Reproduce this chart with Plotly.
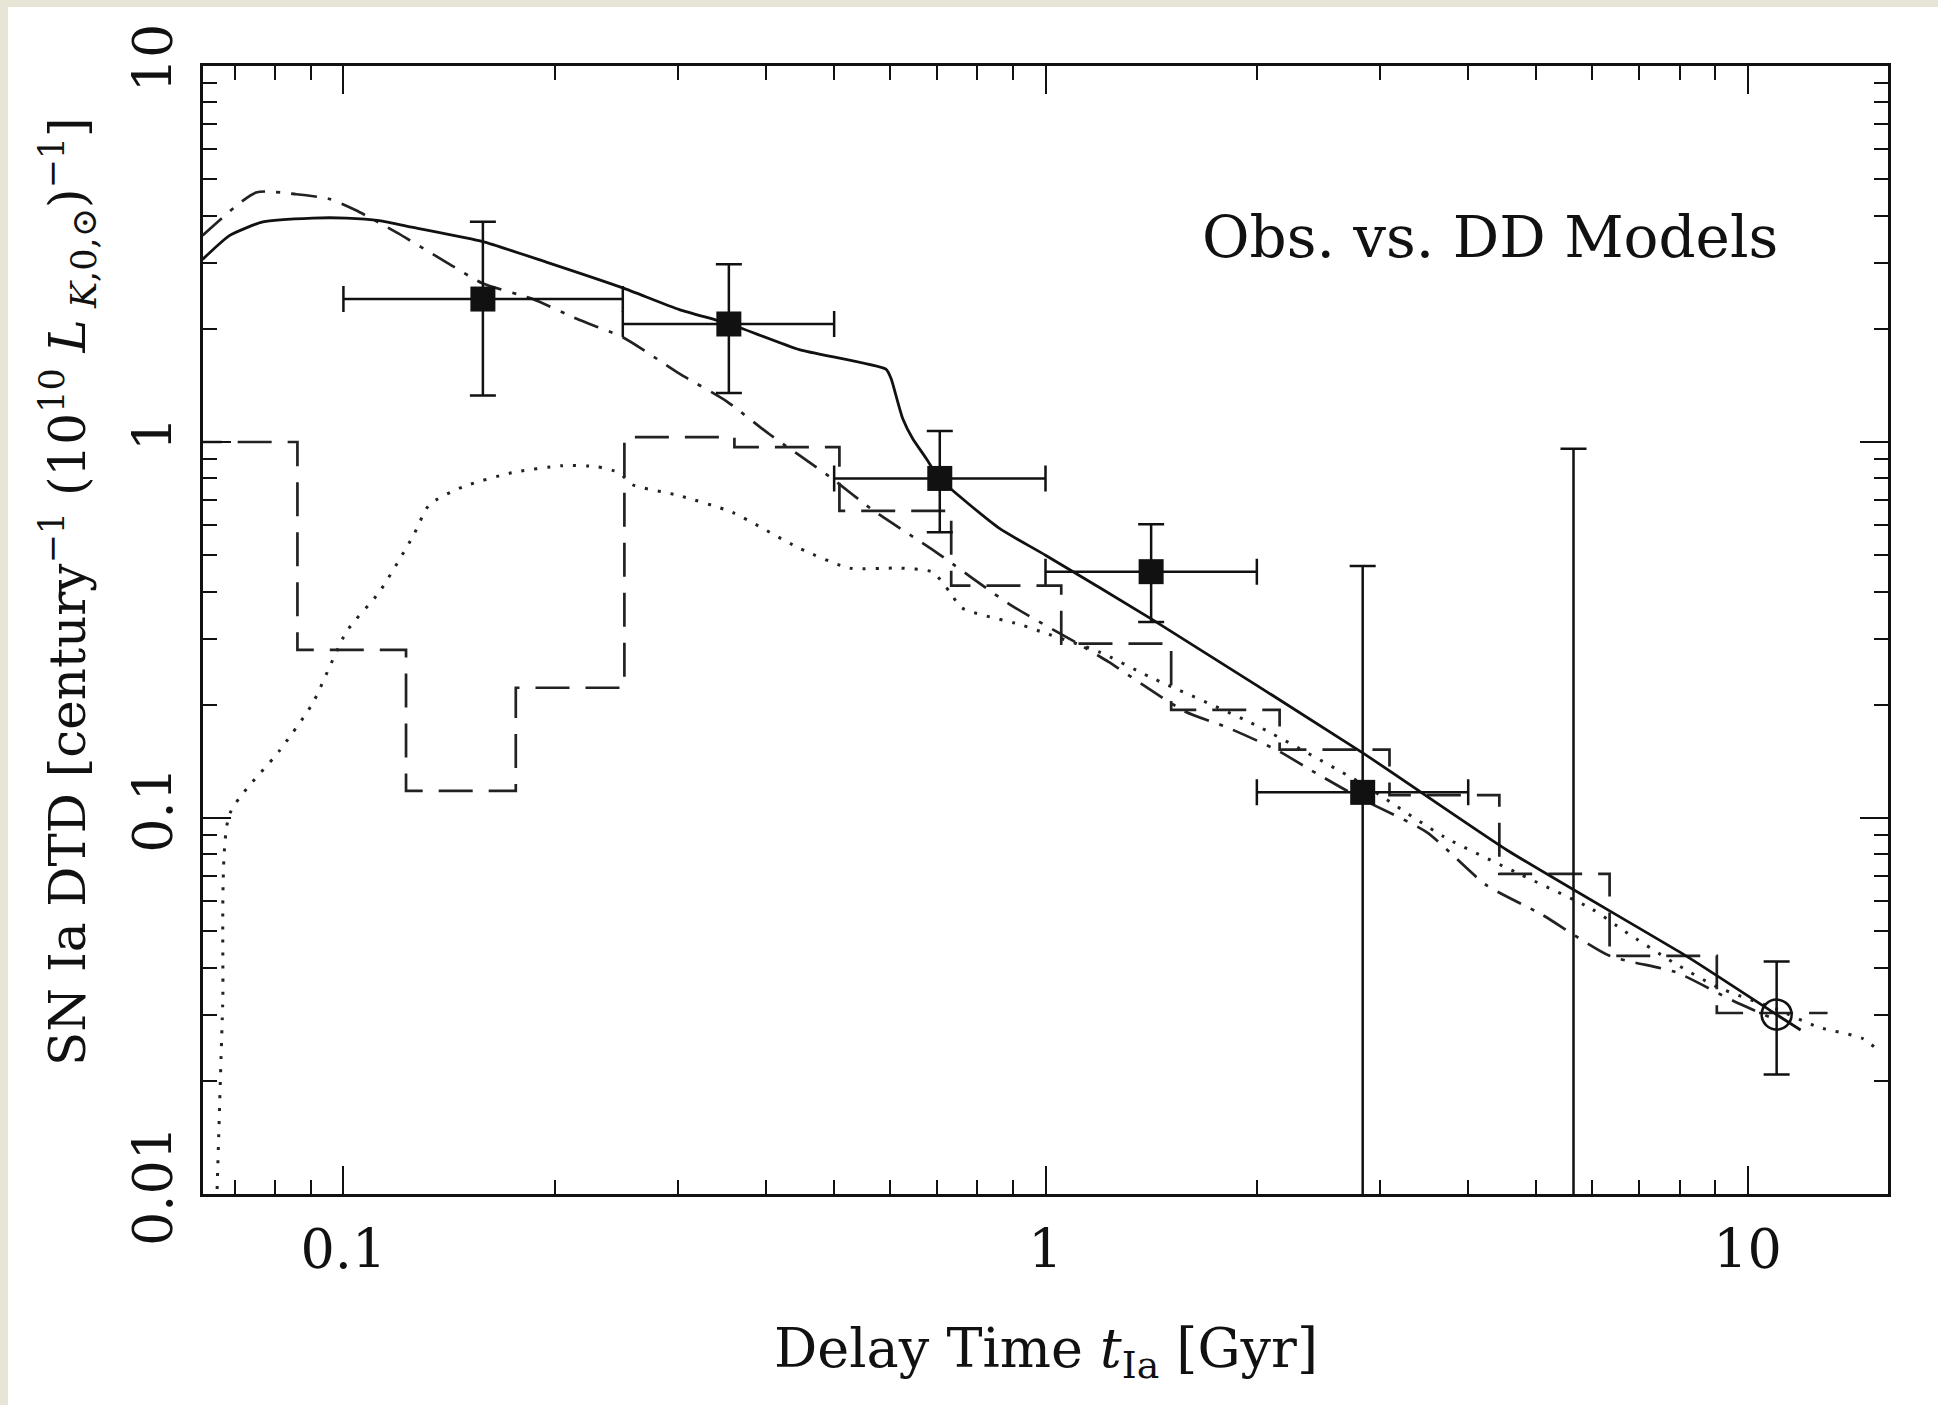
import plotly.graph_objects as go

# ---------------- data ----------------
# Observed SN Ia DTD (filled squares): bin centre, bin edges, rate and 1-sigma range
obs_t = [0.158, 0.354, 0.707, 1.414, 2.83]
obs_t_lo = [0.10, 0.25, 0.50, 1.00, 2.00]
obs_t_hi = [0.25, 0.50, 1.00, 2.00, 4.00]
obs_r = [2.40, 2.06, 0.80, 0.452, 0.117]
obs_r_lo = [1.33, 1.35, 0.575, 0.332, 0.0]
obs_r_hi = [3.85, 2.97, 1.07, 0.604, 0.468]

# 4-8 Gyr bin: only an upper bar is visible
lim_t = [5.65]
lim_r_hi = [0.96]

# Local ellipticals (open circle)
loc_t = [11.0]
loc_r = [0.030]
loc_r_lo = [0.0208]
loc_r_hi = [0.0415]

# DD model (solid)
solid_t = [0.063, 0.0688, 0.0768, 0.0904, 0.101, 0.1125, 0.1256, 0.158, 0.1945,
           0.25, 0.301, 0.355, 0.446, 0.593, 0.603, 0.613, 0.626, 0.647, 0.676,
           0.706, 0.86, 1.0, 1.42, 2.83, 4.565, 8.235, 11.0, 11.9]
solid_r = [3.06, 3.54, 3.85, 3.94, 3.94, 3.88, 3.72, 3.41, 3.01,
           2.57, 2.25, 2.06, 1.76, 1.56, 1.47, 1.32, 1.155, 1.02, 0.905,
           0.80, 0.589, 0.50, 0.337, 0.149, 0.0817, 0.0426, 0.030, 0.0273]

# DD model (dash-dot)
dashdot_t = [0.063, 0.0751, 0.0857, 0.0955, 0.104, 0.119, 0.140, 0.158, 0.186,
             0.217, 0.25, 0.301, 0.351, 0.404, 0.492, 0.567, 0.699, 0.889, 1.13,
             1.23, 1.58, 1.81, 2.13, 2.43, 2.83, 3.49, 4.24, 5.08, 6.36, 7.9,
             9.55, 11.0]
dashdot_r = [3.54, 4.61, 4.56, 4.43, 4.14, 3.61, 3.01, 2.64, 2.40,
             2.11, 1.90, 1.52, 1.285, 1.05, 0.81, 0.66, 0.509, 0.37, 0.286,
             0.26, 0.192, 0.1745, 0.152, 0.1315, 0.112, 0.0917, 0.0664, 0.0555, 0.043, 0.0389,
             0.0326, 0.029]

# DD model (dotted)
dotted_t = [0.0660, 0.0673, 0.0688, 0.0811, 0.0904, 0.101, 0.1125, 0.1256, 0.1326,
            0.148, 0.174, 0.205, 0.229, 0.247, 0.258, 0.301, 0.358, 0.446, 0.526,
            0.62, 0.69, 0.73, 0.76, 0.92, 1.0, 1.19, 1.41, 2.0, 2.83, 3.7, 4.73,
            6.0, 6.68, 7.82, 9.06, 11.0, 12.6, 14.6, 15.5]
dotted_r = [0.0095, 0.0317, 0.102, 0.151, 0.2018, 0.313, 0.399, 0.561, 0.682,
            0.76, 0.829, 0.865, 0.86, 0.829, 0.77, 0.72, 0.65, 0.522, 0.462,
            0.462, 0.451, 0.40, 0.362, 0.327, 0.31, 0.277, 0.237, 0.176, 0.123, 0.089, 0.071,
            0.0573, 0.050, 0.0414, 0.0355, 0.031, 0.0278, 0.0259, 0.0237]

# DD model histogram (dashed): bin edges and rates
hist_edges = [0.060, 0.086, 0.1228, 0.176, 0.2513, 0.3605, 0.5087, 0.734, 1.053,
              1.51, 2.155, 3.09, 4.43, 6.36, 9.04, 13.0]
hist_rate = [1.0, 0.28, 0.118, 0.222, 1.03, 0.969, 0.656, 0.415, 0.291,
             0.194, 0.152, 0.115, 0.071, 0.043, 0.0303]

x_ticks = [0.1, 1, 10]
x_tick_text = ["0.1", "1", "10"]
y_ticks = [0.01, 0.1, 1, 10]
y_tick_text = ["0.01", "0.1", "1", "10"]

# ---------------- styling ----------------
INK = "#111111"
FONT = "DejaVu Serif"
W, H = 1938, 1405
L, R, T, B = 203, 50, 66, 211

fig = go.Figure()

fig.add_trace(go.Scatter(
    x=hist_edges, y=hist_rate + [hist_rate[-1]], mode="lines", line_shape="hv",
    line=dict(color="#222222", width=2.7, dash="34px,16px"), hoverinfo="skip"))

fig.add_trace(go.Scatter(
    x=dotted_t, y=dotted_r, mode="lines", line_shape="spline",
    line=dict(color="#222222", width=3, dash="3px,10px", smoothing=0.6), hoverinfo="skip"))

fig.add_trace(go.Scatter(
    x=dashdot_t, y=dashdot_r, mode="lines", line_shape="spline",
    line=dict(color="#222222", width=2.7, dash="26px,11px,4px,11px", smoothing=0.6),
    hoverinfo="skip"))

fig.add_trace(go.Scatter(
    x=solid_t, y=solid_r, mode="lines", line_shape="spline",
    line=dict(color=INK, width=2.8, smoothing=0.5), hoverinfo="skip"))

fig.add_trace(go.Scatter(
    x=obs_t, y=obs_r, mode="markers",
    marker=dict(symbol="square", size=25, color=INK),
    error_x=dict(type="data", symmetric=False,
                 array=[h - c for h, c in zip(obs_t_hi, obs_t)],
                 arrayminus=[c - l for l, c in zip(obs_t_lo, obs_t)],
                 color=INK, thickness=2.5, width=13),
    error_y=dict(type="data", symmetric=False,
                 array=[h - c for h, c in zip(obs_r_hi, obs_r)],
                 arrayminus=[c - l for l, c in zip(obs_r_lo, obs_r)],
                 color=INK, thickness=2.5, width=13)))

fig.add_trace(go.Scatter(
    x=lim_t, y=lim_r_hi, mode="markers",
    marker=dict(size=1, opacity=0, color=INK),
    error_y=dict(type="data", symmetric=False, array=[0.0],
                 arrayminus=lim_r_hi, color=INK, thickness=2.5, width=13)))

fig.add_trace(go.Scatter(
    x=loc_t, y=loc_r, mode="markers",
    marker=dict(symbol="circle-open", size=30, color=INK, line=dict(width=2.5, color=INK)),
    error_y=dict(type="data", symmetric=False,
                 array=[h - c for h, c in zip(loc_r_hi, loc_r)],
                 arrayminus=[c - l for l, c in zip(loc_r_lo, loc_r)],
                 color=INK, thickness=2.5, width=13)))

def decade_minors(lo_exp, hi_exp):
    return [m * 10.0 ** e for e in range(lo_exp, hi_exp) for m in range(2, 10)]

axis_common = dict(
    type="log", showgrid=False, zeroline=False,
    showline=True, linewidth=3, linecolor=INK, mirror="allticks",
    ticks="inside", ticklen=28, tickwidth=2.4, tickcolor=INK,
    tickfont=dict(family=FONT, size=54, color=INK),
)

fig.update_xaxes(
    **axis_common, range=[-1.2, 1.2], tickvals=x_ticks, ticktext=x_tick_text,
    minor=dict(ticks="inside", ticklen=14, tickwidth=2.2, tickcolor=INK,
               tickvals=decade_minors(-2, 2)),
    ticklabelstandoff=6)

fig.update_yaxes(
    **axis_common, range=[-2, 1], tickvals=y_ticks, ticktext=y_tick_text,
    tickangle=-90,
    minor=dict(ticks="inside", ticklen=14, tickwidth=2.2, tickcolor=INK,
               tickvals=decade_minors(-2, 1)),
    ticklabelstandoff=6)

pw = W - L - R
ph = H - T - B

def px_x(px):
    return (px - L) / pw

def px_y(py):
    return (H - B - py) / ph

fig.add_annotation(
    text="Obs. vs. DD Models", xref="paper", yref="paper",
    x=px_x(1780), y=px_y(237), xanchor="right", yanchor="middle", showarrow=False,
    font=dict(family=FONT, size=58, color=INK))

fig.add_annotation(
    text="Delay Time <i>t</i><sub>Ia</sub> [Gyr]", xref="paper", yref="paper",
    x=0.5, y=px_y(1352), xanchor="center", yanchor="middle", showarrow=False,
    font=dict(family=FONT, size=54, color=INK))

fig.add_annotation(
    text="SN Ia DTD [century<sup>\u22121</sup> (10<sup>10</sup> <i>L</i><sub> <i>K</i>,0,\u2299</sub>)<sup>\u22121</sup>]",
    xref="paper", yref="paper", x=px_x(68), y=px_y(592), xanchor="center", yanchor="middle",
    textangle=-90, showarrow=False, font=dict(family=FONT, size=50, color=INK))

# beige frame strip on top/left edges of the page
fig.add_shape(type="rect", xref="paper", yref="paper", layer="below",
              x0=px_x(8), x1=px_x(W + 10), y0=px_y(H + 10), y1=px_y(7),
              fillcolor="white", line=dict(width=0))

fig.update_layout(
    width=W, height=H, showlegend=False,
    margin=dict(l=L, r=R, t=T, b=B, pad=0),
    paper_bgcolor="#e7e5d6", plot_bgcolor="white",
    font=dict(family=FONT, color=INK),
)

fig.write_html("out.html")
